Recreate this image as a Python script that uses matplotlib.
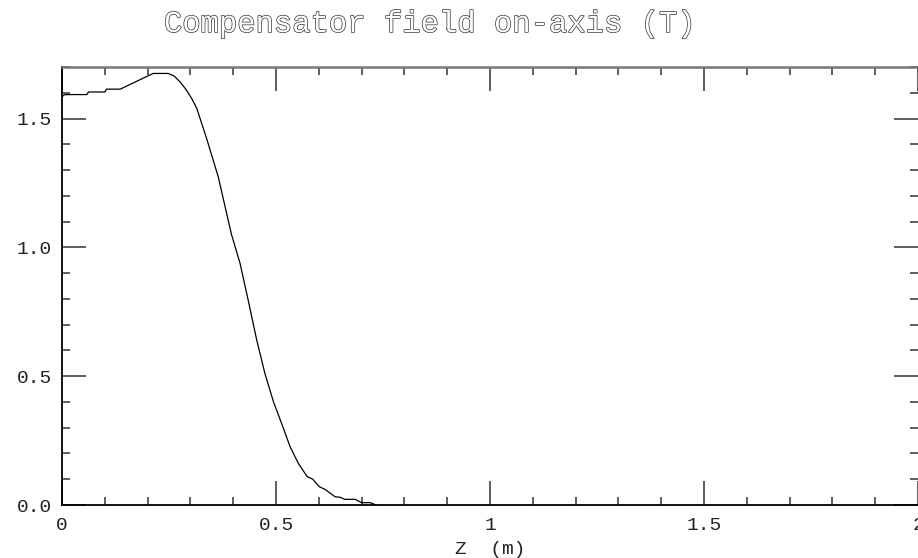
import numpy as np
import matplotlib
matplotlib.use("Agg")
import matplotlib.pyplot as plt
import matplotlib.patheffects as pe
from matplotlib.ticker import MultipleLocator, FixedFormatter, FixedLocator

# on-axis field of the compensator
z = [0.0, 0.005, 0.012, 0.058, 0.062, 0.100, 0.104, 0.136, 0.175, 0.213,
     0.248, 0.262, 0.276, 0.290, 0.303, 0.315, 0.338, 0.365, 0.396, 0.416,
     0.435, 0.455, 0.474, 0.494, 0.513, 0.533, 0.552, 0.573, 0.586, 0.601,
     0.614, 0.638, 0.650, 0.661, 0.685, 0.700, 0.720, 0.734]
bz = [1.584, 1.592, 1.593, 1.593, 1.603, 1.603, 1.614, 1.614, 1.645, 1.675,
      1.675, 1.665, 1.642, 1.612, 1.578, 1.539, 1.422, 1.274, 1.050, 0.938,
      0.795, 0.640, 0.511, 0.401, 0.317, 0.226, 0.162, 0.110, 0.100, 0.071,
      0.061, 0.032, 0.030, 0.022, 0.022, 0.009, 0.009, 0.0]

xticks = [0, 0.5, 1, 1.5, 2]
xlabels = ['0', '0.5', '1', '1.5', '2']
yticks = [0.0, 0.5, 1.0, 1.5]
ylabels = ['0.0', '0.5', '1.0', '1.5']

mono = 'Liberation Mono'

fig = plt.figure(figsize=(9.18, 5.58), dpi=100)
ax = fig.add_axes([62/918, 53/558, 856/918, 438/558])
ax.plot(z, bz, color='black', lw=0.9)

ax.set_xlim(0, 2)
ax.set_ylim(0, 1.7)
ax.xaxis.set_major_locator(FixedLocator(xticks))
ax.xaxis.set_major_formatter(FixedFormatter(xlabels))
ax.xaxis.set_minor_locator(MultipleLocator(0.1))
ax.yaxis.set_major_locator(FixedLocator(yticks))
ax.yaxis.set_major_formatter(FixedFormatter(ylabels))
ax.yaxis.set_minor_locator(MultipleLocator(0.1))

ax.tick_params(which='both', direction='in', top=True, right=True, color='#333333')
ax.tick_params(which='major', length=17, width=1.1)
ax.tick_params(which='minor', length=6, width=1.1)
ax.tick_params(axis='x', pad=9, labelsize=14, labelcolor='#222222')
ax.tick_params(axis='y', pad=7, labelsize=14, labelcolor='#222222')
for lab in ax.get_xticklabels() + ax.get_yticklabels():
    lab.set_family(mono)

ax.spines['right'].set_visible(False)
ax.spines['top'].set_color('#777777')
ax.spines['top'].set_linewidth(1.8)
ax.spines['left'].set_linewidth(1.3)
ax.spines['bottom'].set_linewidth(1.3)

ax.set_xlabel('Z  (m)', family=mono, fontsize=14, color='#222222', labelpad=5)

fig.text(0.4668, 1 - 32/558, 'Compensator field on-axis (T)', ha='center', va='baseline',
         family=mono, fontsize=22, color='white',
         path_effects=[pe.Stroke(linewidth=1.0, foreground='#333333'), pe.Normal()])

fig.savefig('out.png', dpi=100)
